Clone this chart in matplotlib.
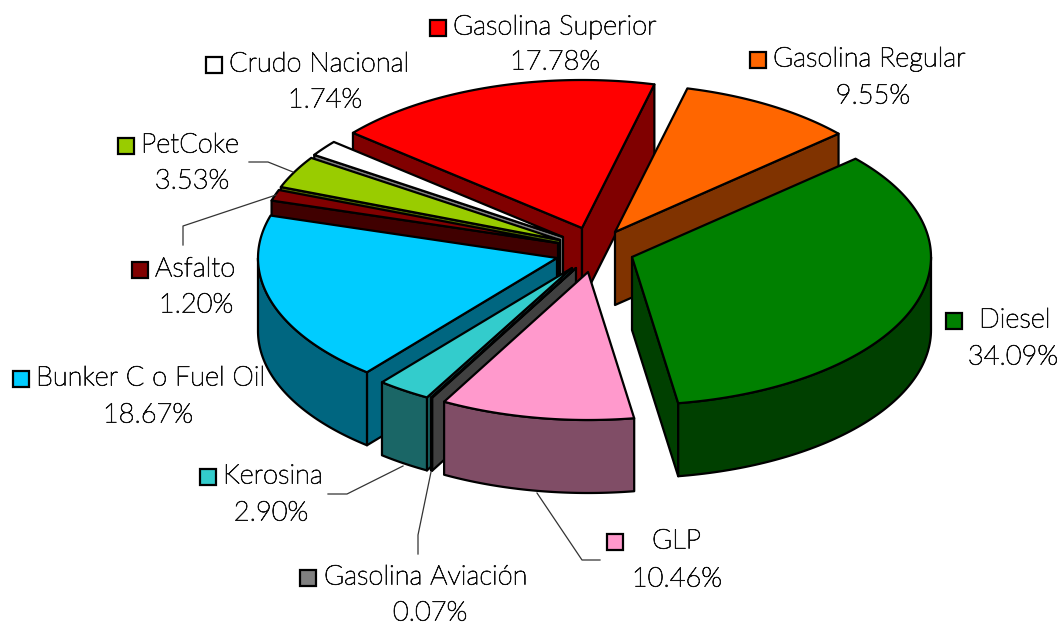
import matplotlib
matplotlib.use("Agg")
import matplotlib.pyplot as plt
import matplotlib.patheffects as pe
import numpy as np
from matplotlib.colors import to_rgb
from matplotlib.patches import Polygon, Rectangle

# clockwise from the first slice, percentages as printed
names = ["Gasolina Superior", "Gasolina Regular", "Diesel", "GLP",
         "Gasolina Aviación", "Kerosina", "Bunker C o Fuel Oil",
         "Asfalto", "PetCoke", "Crudo Nacional"]
shares = [17.78, 9.55, 34.09, 10.46, 0.07, 2.90, 18.67, 1.20, 3.53, 1.74]
colors = ["#FF0000", "#FF6600", "#008000", "#FF99CC", "#808080",
          "#33CCCC", "#00CCFF", "#800000", "#99CC00", "#FFFFFF"]

# pixel layout of the exploded slices
apex_x = [582, 615, 632, 588, 576, 572, 557, 558, 560, 563]
apex_y = [228, 232, 257, 272, 268, 268, 258, 243, 240, 237]
RX, RY, DEPTH = 299, 148, 73
START = -50.0
DRAW_ORDER = [0, 1, 9, 8, 7, 6, 5, 4, 3, 2]

# legend key left edge, key centre y, name x, percent centre x, percent y
key_x = [430, 750, 946, 607, 300, 200, 13, 132, 118, 206]
key_y = [28, 60, 321, 542, 578, 477, 379, 270, 146, 65]
name_x = [453, 773, 979, 652, 324, 223, 36, 155, 141, 229]
pct_x = [555, 873, 1013, 677, 430, 271, 148, 196, 192, 325]
pct_y = [62, 96, 357, 579, 613, 513, 415, 305, 181, 100]

leaders = [
    [(249, 162), (268, 162), (293, 172)],
    [(183, 245), (183, 226), (276, 195)],
    [(328, 494), (347, 494), (403, 466)],
    [(418, 554), (418, 535), (431, 472)],
    [(600, 560), (582, 560), (537, 493)],
]


def rim(cx, cy, deg):
    t = np.radians(deg)
    return cx + RX * np.sin(t), cy - RY * np.cos(t)


def add_poly(ax, pts, color):
    ax.add_patch(Polygon(pts, closed=True, facecolor=color, edgecolor="black",
                         linewidth=1.6, joinstyle="round"))


def draw_slice(ax, cx, cy, a0, a1, color):
    dark = tuple(c * 0.5 for c in to_rgb(color))

    # cut faces, only those turned towards the viewer
    for ang, sign in ((a0, -1), (a1, 1)):
        if sign * np.sin(np.radians(ang)) > 0:
            x, y = rim(cx, cy, ang)
            add_poly(ax, [(cx, cy), (x, y), (x, y + DEPTH), (cx, cy + DEPTH)], dark)

    # outer wall on the front half of the ellipse
    lo, hi = max(a0, 90), min(a1, 270)
    if hi > lo:
        arc = np.linspace(lo, hi, 80)
        xs, ys = rim(cx, cy, arc)
        pts = list(zip(xs, ys)) + list(zip(xs[::-1], ys[::-1] + DEPTH))
        add_poly(ax, pts, dark)

    arc = np.linspace(a0, a1, max(int(a1 - a0) * 2, 3))
    xs, ys = rim(cx, cy, arc)
    add_poly(ax, [(cx, cy)] + list(zip(xs, ys)), color)


def main():
    plt.rcParams["font.family"] = ["Lato", "DejaVu Sans"]
    fig = plt.figure(figsize=(10.6, 6.24), dpi=100)
    ax = fig.add_axes([0, 0, 1, 1])
    ax.set_xlim(0, 1060)
    ax.set_ylim(624, 0)
    ax.axis("off")

    edges = START + np.cumsum([0] + shares) * 360.0 / 100.0
    for i in DRAW_ORDER:
        draw_slice(ax, apex_x[i], apex_y[i], edges[i], edges[i + 1], colors[i])

    for line in leaders:
        xs, ys = zip(*line)
        ax.plot(xs, ys, color="#333333", linewidth=0.9)

    # the light cut is too faint on its own, thicken it a little
    heavier = [pe.withStroke(linewidth=0.6, foreground="#111111")]
    for i, name in enumerate(names):
        ax.add_patch(Rectangle((key_x[i], key_y[i] - 8), 16, 16, facecolor=colors[i],
                               edgecolor="black", linewidth=1.6))
        ax.text(name_x[i], key_y[i] - 1, name, fontsize=19.6, fontweight="light",
                color="#111111", ha="left", va="center", path_effects=heavier)
        ax.text(pct_x[i], pct_y[i], f"{shares[i]:.2f}%", fontsize=19.6, fontweight="light",
                color="#111111", ha="center", va="center", path_effects=heavier)

    fig.savefig("out.png", dpi=100)


if __name__ == "__main__":
    main()
